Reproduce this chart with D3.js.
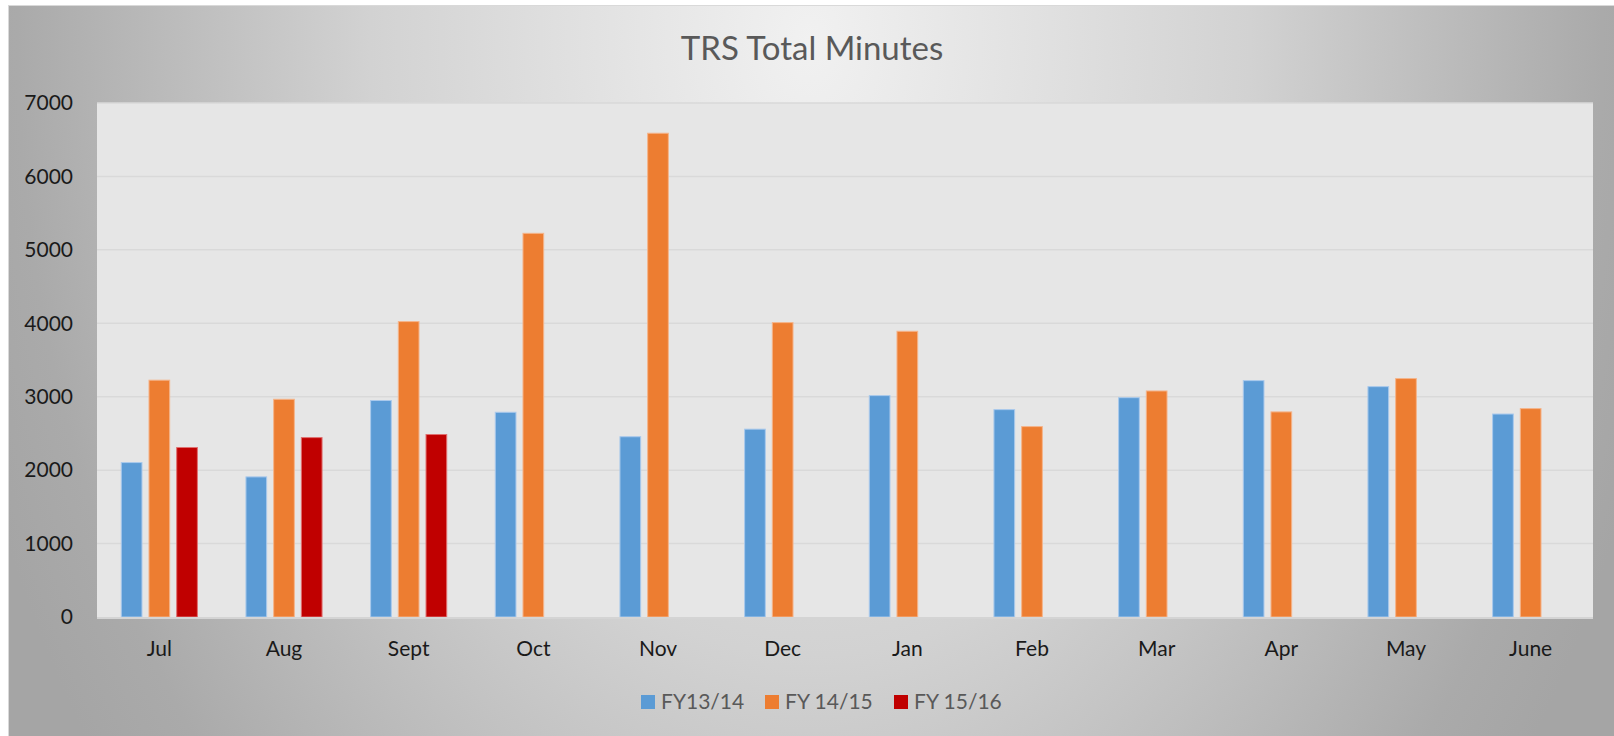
<!DOCTYPE html>
<html><head><meta charset="utf-8">
<script src="https://cdn.jsdelivr.net/npm/d3@7"></script>
<style>html,body{margin:0;padding:0;background:#fff;overflow:hidden}</style>
</head><body><svg id="c" width="1614" height="736"></svg>
<script>
const months = ["Jul","Aug","Sept","Oct","Nov","Dec","Jan","Feb","Mar","Apr","May","June"];
const seriesNames = ["FY13/14","FY 14/15","FY 15/16"];
const fy1314 = [2110,1915,2955,2795,2462,2565,3022,2831,2994,3226,3144,2771];
const fy1415 = [3232,2972,4030,5232,6595,4016,3898,2600,3085,2800,3254,2845];
const fy1516 = [2315,2450,2492,null,null,null,null,null,null,null,null,null];
const yTicks = [0,1000,2000,3000,4000,5000,6000,7000];
const colors = ["#5b9bd5","#ed7d31","#c00000"];
const strokes = ["#a9c9ec","#f5b48a","#e07070"];

const svg = d3.select("#c");
const defs = svg.append("defs");
const rg = defs.append("radialGradient").attr("id","bg")
  .attr("gradientUnits","userSpaceOnUse").attr("cx",810).attr("cy",40).attr("r",880)
  .attr("gradientTransform","translate(810,40) scale(1,1.4) translate(-810,-40)");
rg.append("stop").attr("offset","0").attr("stop-color","#f1f1f1");
rg.append("stop").attr("offset","0.5").attr("stop-color","#d2d2d2");
rg.append("stop").attr("offset","0.9").attr("stop-color","#aaaaaa");
rg.append("stop").attr("offset","1").attr("stop-color","#a5a5a5");

svg.append("rect").attr("x",8.5).attr("y",5.5).attr("width",1610).attr("height",735)
  .attr("fill","url(#bg)").attr("stroke","#d9d9d9");

const L=97, R=1593, T=103, B=617;
svg.append("rect").attr("x",L).attr("y",T).attr("width",R-L).attr("height",B-T).attr("fill","#e6e6e6");

const y = d3.scaleLinear().domain([0,7000]).range([B,T]);
const x0 = d3.scaleBand().domain(months).range([L,R]).padding(0);
const gw = 77.1, gOff = (x0.bandwidth()-gw)/2;
const x1 = d3.scaleBand().domain(seriesNames).range([gOff,gOff+gw]).paddingInner(0.217).paddingOuter(0);

const font = "Lato, 'Open Sans', sans-serif";

// gridlines
svg.append("g").selectAll("line").data(yTicks.filter(d=>d>0)).join("line")
  .attr("x1",L).attr("x2",R).attr("y1",d=>y(d)).attr("y2",d=>y(d))
  .attr("stroke","#d9d9d9").attr("stroke-width",1.5);

// y axis labels
const yAxis = d3.axisLeft(y).tickValues(yTicks).tickFormat(d3.format("d")).tickSize(0).tickPadding(0);
const ya = svg.append("g").attr("transform",`translate(73,0)`).call(yAxis);
ya.select(".domain").remove();
ya.selectAll("text").attr("font-family",font).attr("font-size",21).attr("fill","#1a1a1a");

// bars
const allSeries = [fy1314, fy1415, fy1516];
allSeries.forEach((vals,si)=>{
  svg.append("g").selectAll("rect").data(months.map((m,i)=>({m,v:vals[i]})).filter(d=>d.v!=null)).join("rect")
    .attr("x",d=>x0(d.m)+x1(seriesNames[si])+0.5)
    .attr("width",x1.bandwidth()-1)
    .attr("y",d=>y(d.v)+0.5)
    .attr("height",d=>B-y(d.v)-0.5)
    .attr("fill",colors[si]).attr("stroke",strokes[si]).attr("stroke-width",1);
});

// zero axis line
svg.append("line").attr("x1",L).attr("x2",R).attr("y1",B+1).attr("y2",B+1).attr("stroke","#d4d4d4").attr("stroke-width",2);

// x axis labels
const xAxis = d3.axisBottom(x0).tickSize(0).tickPadding(0);
const xa = svg.append("g").attr("transform",`translate(0,${B+24})`).call(xAxis);
xa.select(".domain").remove();
xa.selectAll("text").attr("font-family",font).attr("font-size",21).attr("fill","#1a1a1a").attr("dy","0.71em");

// title
svg.append("text").attr("x",812).attr("y",60).attr("text-anchor","middle")
  .attr("font-family",font).attr("font-size",33).attr("fill","#595959").text("TRS Total Minutes");

// legend
const legX = [641,765,894];
const lg = svg.append("g");
seriesNames.forEach((s,i)=>{
  lg.append("rect").attr("x",legX[i]).attr("y",695).attr("width",14).attr("height",14).attr("fill",colors[i]);
  lg.append("text").attr("x",legX[i]+20).attr("y",709).attr("font-family",font)
    .attr("font-size",21).attr("fill","#595959").text(s);
});
</script></body></html>
